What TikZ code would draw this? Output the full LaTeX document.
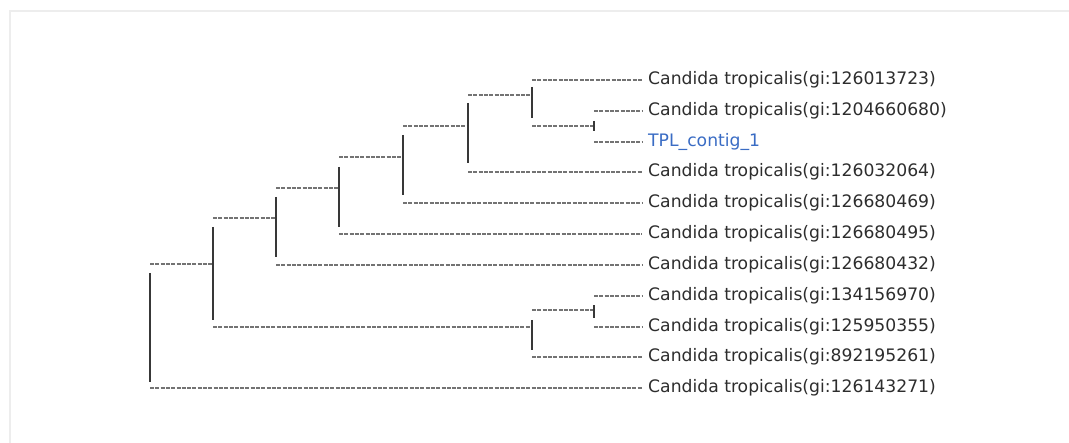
\documentclass[tikz,border=0pt]{standalone}
\usepackage{fontspec}
\setmainfont{DejaVu Sans}
\usetikzlibrary{calc}
\definecolor{querycol}{RGB}{58,108,196}
\definecolor{labelcol}{RGB}{45,45,45}
\begin{document}
\begin{tikzpicture}[x=1pt,y=-1pt,
  branch/.style={draw=black!55, line width=1.4pt, dash pattern=on 4pt off 1.3pt},
  bar/.style={draw=black!78, line width=1.7pt},
  leaf/.style={anchor=west, inner xsep=6pt, inner ysep=0pt,
    font=\fontsize{17.2}{19}\selectfont, text=labelcol},
  query/.style={leaf, text=querycol},
  frame/.style={draw=black!7, line width=2pt}]
\useasboundingbox (0,0) rectangle (1069,443);
% faint panel frame
\draw[frame] (10,443) -- (10,11) -- (1069,11);

% leaves
\node[leaf]  (l1)  at (642,80)  {Candida tropicalis(gi:126013723)};
\node[leaf]  (l2)  at (642,111) {Candida tropicalis(gi:1204660680)};
\node[query] (l3)  at (642,142) {TPL\_contig\_1};
\node[leaf]  (l4)  at (642,172) {Candida tropicalis(gi:126032064)};
\node[leaf]  (l5)  at (642,203) {Candida tropicalis(gi:126680469)};
\node[leaf]  (l6)  at (642,234) {Candida tropicalis(gi:126680495)};
\node[leaf]  (l7)  at (642,265) {Candida tropicalis(gi:126680432)};
\node[leaf]  (l8)  at (642,296) {Candida tropicalis(gi:134156970)};
\node[leaf]  (l9)  at (642,327) {Candida tropicalis(gi:125950355)};
\node[leaf]  (l10) at (642,357) {Candida tropicalis(gi:892195261)};
\node[leaf]  (l11) at (642,388) {Candida tropicalis(gi:126143271)};

% internal nodes
\coordinate (nB)   at (594,126);
\coordinate (nA)   at (532,95);
\coordinate (n3)   at (468,126);
\coordinate (n4)   at (403,157);
\coordinate (n5)   at (339,188);
\coordinate (n6)   at (276,218);
\coordinate (n7)   at (213,264);
\coordinate (root) at (150,326);
\coordinate (nC)   at (532,327);
\coordinate (nD)   at (594,310);

% internal edges
\draw[branch] (nA |- nB) -- (nB);
\draw[branch] (n3 |- nA) -- (nA);
\draw[branch] (n4 |- n3) -- (n3);
\draw[branch] (n5 |- n4) -- (n4);
\draw[branch] (n6 |- n5) -- (n5);
\draw[branch] (n7 |- n6) -- (n6);
\draw[branch] (root |- n7) -- (n7);
\draw[branch] (n7 |- nC) -- (nC);
\draw[branch] (nC |- nD) -- (nD);

% leaf edges
\draw[branch] (nA |- l1.west) -- (l1.west);
\draw[branch] (nB |- l2.west) -- (l2.west);
\draw[branch] (nB |- l3.west) -- (l3.west);
\draw[branch] (n3 |- l4.west) -- (l4.west);
\draw[branch] (n4 |- l5.west) -- (l5.west);
\draw[branch] (n5 |- l6.west) -- (l6.west);
\draw[branch] (n6 |- l7.west) -- (l7.west);
\draw[branch] (nD |- l8.west) -- (l8.west);
\draw[branch] (nD |- l9.west) -- (l9.west);
\draw[branch] (nC |- l10.west) -- (l10.west);
\draw[branch] (root |- l11.west) -- (l11.west);

% vertical bars, set slightly inside the span of their children
\draw[bar] ($(nA |- l1.west)+(0,7)$)   -- ($(nA |- nB)+(0,-8)$);
\draw[bar] ($(nB |- l2.west)+(0,10)$)  -- ($(nB |- l3.west)+(0,-11)$);
\draw[bar] ($(n3 |- nA)+(0,8)$)        -- ($(n3 |- l4.west)+(0,-9)$);
\draw[bar] ($(n4 |- n3)+(0,9)$)        -- ($(n4 |- l5.west)+(0,-8)$);
\draw[bar] ($(n5 |- n4)+(0,10)$)       -- ($(n5 |- l6.west)+(0,-7)$);
\draw[bar] ($(n6 |- n5)+(0,9)$)        -- ($(n6 |- l7.west)+(0,-7.5)$);
\draw[bar] ($(n7 |- n6)+(0,9)$)        -- ($(n7 |- nC)+(0,-7)$);
\draw[bar] ($(root |- n7)+(0,9)$)      -- ($(root |- l11.west)+(0,-6)$);
\draw[bar] ($(nC |- nD)+(0,10)$)       -- ($(nC |- l10.west)+(0,-7)$);
\draw[bar] ($(nD |- l8.west)+(0,9.5)$) -- ($(nD |- l9.west)+(0,-8.5)$);
\end{tikzpicture}
\end{document}
